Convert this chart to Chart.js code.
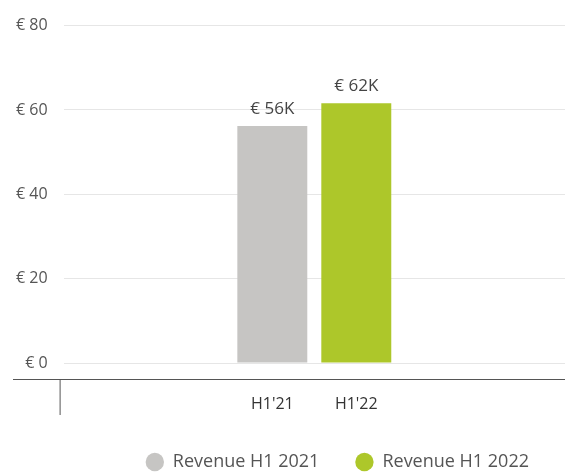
<!DOCTYPE html>
<html lang="en">
<head>
  <meta charset="UTF-8" />
  <title>Revenue H1</title>
  <script src="https://cdn.jsdelivr.net/npm/chart.js"></script>
  <style>
    html, body {
      margin: 0;
      padding: 0;
      background: #fff;
    }
    #wrap {
      width: 565px;
      height: 473px;
    }
  </style>
</head>
<body>
  <div id="wrap"><canvas id="grafica"></canvas></div>

  <script>
    const categorias = ['H1'];
    const series = ['Revenue H1 2021', 'Revenue H1 2022'];
    const periodos = ["H1'21", "H1'22"];
    const valores = [56.2, 61.6];
    const colores = ['#c6c5c3', '#adc72a'];
    const ticksY = [0, 20, 40, 60, 80];

    const fuente = "'Open Sans', sans-serif";

    // etiquetas encima de las barras y debajo del eje
    const etiquetas = {
      id: 'etiquetas',
      afterDatasetsDraw(chart) {
        const ctx = chart.ctx;
        const xs = chart.scales.x;
        ctx.save();
        ctx.textAlign = 'center';
        chart.data.datasets.forEach((ds, i) => {
          const bar = chart.getDatasetMeta(i).data[0];
          ctx.font = '17px ' + fuente;
          ctx.fillStyle = '#444';
          ctx.textBaseline = 'alphabetic';
          ctx.fillText('€ ' + Math.round(ds.data[0]) + 'K', bar.x, bar.y - 12);
          ctx.font = '16px ' + fuente;
          ctx.fillStyle = '#333';
          ctx.textBaseline = 'middle';
          ctx.fillText(periodos[i], bar.x, xs.top + 41);
        });
        // linea oscura bajo el eje
        ctx.strokeStyle = '#555';
        ctx.lineWidth = 1;
        ctx.beginPath();
        ctx.moveTo(13, xs.top + 16.5);
        ctx.lineTo(chart.width, xs.top + 16.5);
        ctx.moveTo(chart.chartArea.left - 3.5, xs.top + 16);
        ctx.lineTo(chart.chartArea.left - 3.5, xs.top + 52);
        ctx.stroke();
        ctx.restore();
      }
    };

    new Chart(document.getElementById('grafica'), {
      type: 'bar',
      data: {
        labels: categorias,
        datasets: series.map((s, i) => ({
          label: s,
          data: [valores[i]],
          backgroundColor: colores[i],
          borderWidth: 0,
          categoryPercentage: 0.335,
          barPercentage: 0.833
        }))
      },
      options: {
        responsive: true,
        maintainAspectRatio: false,
        animation: false,
        layout: { padding: { top: 18, right: 0, left: 0, bottom: -8 } },
        scales: {
          x: {
            grid: { display: false },
            border: { display: false },
            ticks: { display: false },
            afterFit: s => { s.height = 54; }
          },
          y: {
            min: 0,
            max: 80,
            afterBuildTicks: s => { s.ticks = ticksY.map(v => ({ value: v })); },
            border: { display: false },
            grid: { color: '#e6e6e6', drawTicks: false },
            ticks: {
              padding: 16,
              color: '#555',
              font: { family: fuente, size: 16 },
              callback: v => '€ ' + v
            }
          }
        },
        plugins: {
          legend: {
            position: 'bottom',
            align: 'end',
            labels: {
              usePointStyle: true,
              pointStyle: 'circle',
              boxHeight: 13,
              boxWidth: 18,
              padding: 36,
              color: '#555',
              font: { family: fuente, size: 18 }
            }
          },
          tooltip: { enabled: false }
        }
      },
      plugins: [etiquetas]
    });
  </script>
</body>
</html>
